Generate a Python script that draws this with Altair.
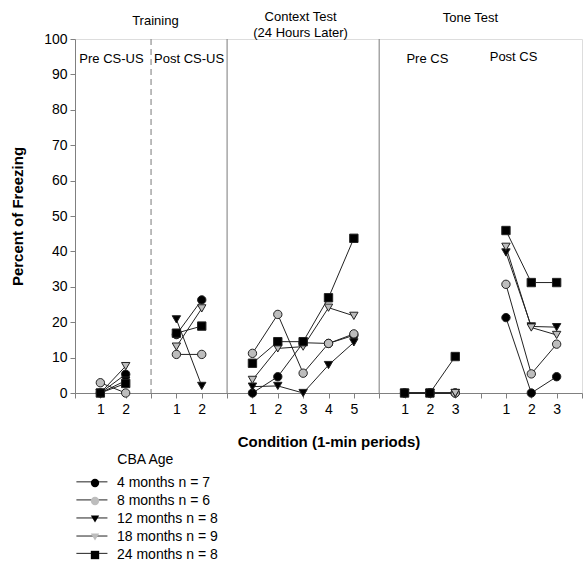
import altair as alt
import pandas as pd

# ---------------- data ----------------
series = ["4 months n = 7", "8 months n = 6", "12 months n = 8",
          "18 months n = 9", "24 months n = 8"]
shapes = ["circle", "circle", "triangle-down", "triangle-down", "square"]
fills = ["#000000", "#bdbdbd", "#000000", "#bdbdbd", "#000000"]

x_pos = [1, 2, 4, 5, 7, 8, 9, 10, 11, 13, 14, 15, 17, 18, 19]
segments = ["pre_csus"] * 2 + ["post_csus"] * 2 + ["context"] * 5 + \
           ["pre_cs"] * 3 + ["post_cs"] * 3

m4 = [0, 5.3, 16.5, 26.3, 0, 4.6, 14.2, 14.0, 16.3, 0, 0, 0, 21.3, 0, 4.6]
m8 = [2.9, 0, 10.9, 10.9, 11.2, 22.2, 5.6, 14.0, 16.7, 0, 0, 0, 30.7, 5.4, 13.8]
m12 = [0, 3.5, 20.8, 2.0, 1.8, 2.0, 0, 7.9, 14.3, 0, 0, 0, 39.7, 18.8, 18.6]
m18 = [0, 7.6, 13.1, 23.9, 3.7, 12.6, 13.1, 24.1, 21.8, 0, 0, 0, 41.3, 18.5, 16.4]
m24 = [0, 2.7, 16.9, 18.9, 8.4, 14.5, 14.5, 26.9, 43.7, 0, 0, 10.3, 45.9, 31.2, 31.2]
all_values = [m4, m8, m12, m18, m24]

tick_values = list(range(0, 21))
tick_labels = ["", "1", "2", "", "1", "2", "", "1", "2", "3", "4", "5",
               "", "1", "2", "3", "", "1", "2", "3", ""]
y_ticks = list(range(0, 101, 10))

dashed_dividers = [3]
solid_dividers = [6, 12]

header_text = ["Training", "Context Test", "(24 Hours Later)", "Tone Test",
               "Pre CS-US", "Post CS-US", "Pre CS", "Post CS"]
header_x = [3.17, 8.9, 8.9, 15.6, 1.44, 4.5, 13.9, 17.3]
header_y = [105.1, 106.2, 101.7, 105.9, 94.4, 94.4, 94.4, 94.9]

legend_title = "CBA Age"
legend_row_y = [-25.1, -30.2, -35.3, -40.4, -45.3]

# ---------------- tables ----------------
rows = []
for si, (s, vals) in enumerate(zip(series, all_values)):
    for x, seg, v in zip(x_pos, segments, vals):
        rows.append({"series": s, "order": si, "x": x, "segment": seg, "y": v})
df = pd.DataFrame(rows)

FONT = "Liberation Sans"
xscale = alt.Scale(domain=[0, 20], nice=False, zero=False)
yscale = alt.Scale(domain=[0, 100], nice=False)

label_expr = "[" + ",".join("'" + t + "'" for t in tick_labels) + "][datum.value]"

xaxis = alt.Axis(values=tick_values, labelExpr=label_expr, title="Condition (1-min periods)",
                 grid=False, labelPadding=4, titlePadding=18, labelFlush=False)
yaxis = alt.Axis(values=y_ticks, title="Percent of Freezing", grid=False,
                 labelPadding=3, titlePadding=18)

X = alt.X("x:Q", scale=xscale, axis=xaxis)
Y = alt.Y("y:Q", scale=yscale, axis=yaxis)

base = alt.Chart(df)

lines = base.mark_line(color="#222", strokeWidth=1).encode(
    x=X, y=Y,
    detail=["series:N", "segment:N"],
    order="x:Q",
)

legend = alt.Legend(title=None, orient="none", legendX=13, legendY=437,
                    labelFont=FONT, labelFontSize=14, labelColor="#000",
                    labelOffset=15, rowPadding=4, symbolSize=70,
                    symbolStrokeColor="#222", symbolStrokeWidth=1)

points = base.mark_point(filled=True, size=70, stroke="#222", strokeWidth=1, opacity=1).encode(
    x=X, y=Y,
    shape=alt.Shape("series:N", scale=alt.Scale(domain=series, range=shapes), legend=legend),
    fill=alt.Fill("series:N", scale=alt.Scale(domain=series, range=fills), legend=legend),
    order="order:Q",
)

dashed = alt.Chart(pd.DataFrame({"x": dashed_dividers})).mark_rule(
    color="#909090", strokeWidth=1.2, strokeDash=[6, 4]).encode(x=X)
solid = alt.Chart(pd.DataFrame({"x": solid_dividers})).mark_rule(
    color="#909090", strokeWidth=1.2).encode(x=X)

headers = alt.Chart(pd.DataFrame({"t": header_text, "x": header_x, "y": header_y})).mark_text(
    font=FONT, fontSize=13, color="#000", align="center", baseline="middle").encode(
    x=X, y=Y, text="t:N")

leg_lines = alt.Chart(pd.DataFrame({"series": series, "y": legend_row_y})).mark_rule(
    color="#222", strokeWidth=1).encode(
    x=alt.datum(0.055, scale=xscale, axis=xaxis), x2=alt.datum(1.28),
    y=Y)

leg_title = alt.Chart(pd.DataFrame({"t": [legend_title]})).mark_text(
    font=FONT, fontSize=14, color="#000", align="left", baseline="middle").encode(
    x=alt.datum(1.67, scale=xscale, axis=xaxis), y=alt.datum(-18.9, scale=yscale, axis=yaxis),
    text="t:N")

chart = alt.layer(dashed, solid, lines, leg_lines, points, headers, leg_title).properties(
    width=507, height=354,
    autosize="none",
    padding={"left": 75, "top": 39, "right": 1, "bottom": 168},
).configure_view(stroke=None).configure(background="white").configure_axis(
    labelOverlap=False, domainColor="#808080", tickColor="#808080", tickSize=5,
    labelFontSize=14, labelFont=FONT, labelColor="#000",
    titleFont=FONT, titleFontSize=15, titleFontWeight="bold", titleColor="#000",
)

chart.save("out.html", embed_options={"renderer": "svg", "actions": False})
